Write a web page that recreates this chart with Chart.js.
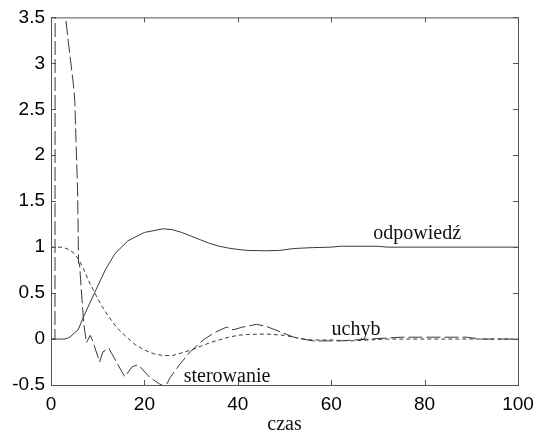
<!DOCTYPE html>
<html lang="pl">
<head>
<meta charset="UTF-8">
<title>odpowiedź / uchyb / sterowanie</title>
<script src="https://cdn.jsdelivr.net/npm/chart.js"></script>
<style>
  html, body { margin: 0; padding: 0; background: #fff; }
  #wrap { width: 543px; height: 436px; }
</style>
</head>
<body>
<div id="wrap"><canvas id="c" width="543" height="436"></canvas></div>
<script>
// tick labels
const xTicks = [0, 20, 40, 60, 80, 100];
const yTicks = [-0.5, 0, 0.5, 1, 1.5, 2, 2.5, 3, 3.5];

// odpowiedź (solid)
const tOdp = [0, 2, 3, 4, 5.8, 7.3, 9.4, 11.6, 13.7, 16.5, 20, 24, 26, 28, 30, 32, 34, 36, 38, 40, 42, 46, 49, 52, 56, 60, 62, 70, 72, 80, 90, 100];
const odp  = [0, 0, 0, 0.02, 0.1, 0.28, 0.51, 0.75, 0.93, 1.07, 1.16, 1.2, 1.19, 1.16, 1.12, 1.08, 1.04, 1.01, 0.99, 0.975, 0.965, 0.96, 0.965, 0.985, 0.995, 1.0, 1.01, 1.01, 1.0, 1.0, 1.0, 1.0];

// uchyb (short dashes)
const tUch = [0, 2, 3, 4, 5, 6, 7, 8, 9, 10, 11, 12, 13, 14, 16, 18, 20, 22, 24, 26, 28, 30, 32, 34, 36, 38, 40, 42, 46, 50, 52, 54, 56, 60, 64, 68, 72, 100];
const uch  = [1.0, 1.0, 0.99, 0.97, 0.93, 0.86, 0.76, 0.64, 0.54, 0.44, 0.35, 0.27, 0.2, 0.13, 0.03, -0.06, -0.12, -0.16, -0.18, -0.18, -0.15, -0.12, -0.08, -0.04, -0.01, 0.02, 0.04, 0.05, 0.055, 0.04, 0.02, 0.0, -0.01, -0.01, -0.02, -0.01, 0, 0];

// sterowanie (long dashes)
const tSter = [0, 0.85, 0.9, 2, 2.9, 3.7, 4.8, 5.1, 5.35, 5.7, 5.9, 6.1, 7.0, 7.6, 8.4, 9.0, 10.4, 11.1, 12.4, 14.1, 15.8, 17.4, 18.7, 21.2, 23.3, 24.5, 25.5, 27.5, 29.8, 32.6, 35, 37.6, 39, 41, 44, 46, 49, 52, 56, 62, 68, 75, 89, 92, 100];
const ster  = [0, 0, 5.5, 5.5, 3.6, 3.24, 2.77, 2.59, 2.16, 1.6, 0.82, 0.82, 0.17, -0.04, 0.04, -0.03, -0.25, -0.14, -0.1, -0.26, -0.41, -0.3, -0.28, -0.42, -0.49, -0.52, -0.42, -0.28, -0.14, -0.01, 0.07, 0.13, 0.1, 0.13, 0.16, 0.14, 0.08, 0.02, -0.02, -0.02, 0, 0.02, 0.02, 0, 0];

// text labels on the plot
const curveLabels = [
  { text: 'odpowiedź', x: 78.4, y: 1.15 },
  { text: 'uchyb', x: 65.3, y: 0.1 },
  { text: 'sterowanie', x: 37.7, y: -0.41 }
];
const xTitle = 'czas';

function pts(xs, ys) {
  return xs.map((x, i) => ({ x: x, y: ys[i] }));
}

const lineColor = '#3a3a3a';

// frame, inward ticks, labels
const framePlugin = {
  id: 'frame',
  afterDraw(chart) {
    const ctx = chart.ctx;
    const a = chart.chartArea;
    const xs = chart.scales.x, ys = chart.scales.y;
    ctx.save();
    ctx.strokeStyle = '#555';
    ctx.lineWidth = 1;
    ctx.strokeRect(a.left + 0.5, a.top + 0.5, a.right - a.left, a.bottom - a.top);
    ctx.beginPath();
    xTicks.forEach(v => {
      const px = Math.round(xs.getPixelForValue(v)) + 0.5;
      ctx.moveTo(px, a.bottom); ctx.lineTo(px, a.bottom - 5);
      ctx.moveTo(px, a.top); ctx.lineTo(px, a.top + 5);
    });
    yTicks.forEach(v => {
      const py = Math.round(ys.getPixelForValue(v)) + 0.5;
      ctx.moveTo(a.left, py); ctx.lineTo(a.left + 5, py);
      ctx.moveTo(a.right, py); ctx.lineTo(a.right - 5, py);
    });
    ctx.stroke();

    ctx.fillStyle = '#111';
    ctx.font = '20px "Liberation Serif", "Times New Roman", serif';
    ctx.textAlign = 'center';
    ctx.textBaseline = 'middle';
    curveLabels.forEach(l => {
      ctx.fillText(l.text, xs.getPixelForValue(l.x), ys.getPixelForValue(l.y));
    });
    ctx.fillText(xTitle, (a.left + a.right) / 2, 425);
    ctx.restore();
  }
};

const ds = (label, xs, ysArr, dash) => ({
  label: label,
  data: pts(xs, ysArr),
  borderColor: lineColor,
  borderWidth: 1,
  borderDash: dash,
  pointRadius: 0,
  tension: 0,
  fill: false,
  clip: 0
});

new Chart(document.getElementById('c'), {
  type: 'line',
  data: {
    datasets: [
      ds('odpowiedź', tOdp, odp, []),
      ds('uchyb', tUch, uch, [4, 3]),
      ds('sterowanie', tSter, ster, [14, 4])
    ]
  },
  options: {
    responsive: false,
    animation: false,
    devicePixelRatio: 1,
    layout: { padding: { left: 0, top: 16, right: 25, bottom: 0 } },
    plugins: { legend: { display: false }, tooltip: { enabled: false } },
    scales: {
      x: {
        type: 'linear',
        min: 0, max: 100,
        grid: { display: false, drawTicks: false },
        border: { display: false },
        afterBuildTicks: s => { s.ticks = xTicks.map(v => ({ value: v })); },
        afterFit: s => { s.height = 51; },
        ticks: {
          color: '#000',
          padding: 8,
          maxRotation: 0,
          callback: v => String(v),
          font: { family: '"Liberation Sans", Arial, sans-serif', size: 19 }
        }
      },
      y: {
        type: 'linear',
        min: -0.5, max: 3.5,
        grid: { display: false, drawTicks: false },
        border: { display: false },
        afterBuildTicks: s => { s.ticks = yTicks.map(v => ({ value: v })); },
        afterFit: s => { s.width = 51; },
        ticks: {
          color: '#000',
          padding: 6,
          callback: v => String(v),
          font: { family: '"Liberation Sans", Arial, sans-serif', size: 19 }
        }
      }
    }
  },
  plugins: [framePlugin]
});
</script>
</body>
</html>
